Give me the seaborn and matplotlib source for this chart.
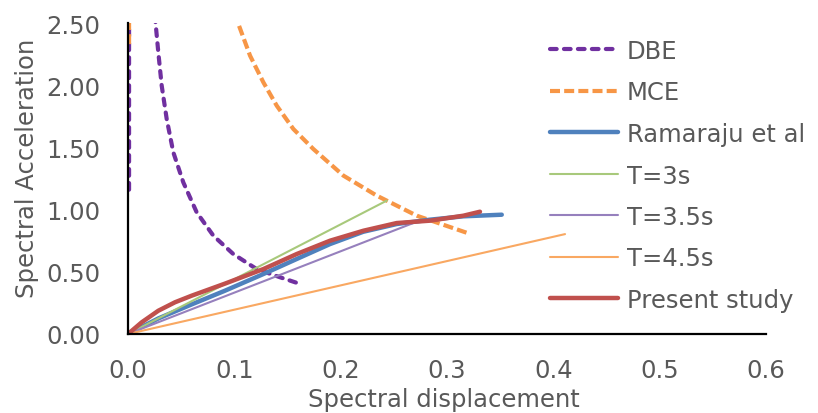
import matplotlib
matplotlib.use("Agg")
import matplotlib.pyplot as plt
import seaborn as sns

# (Sd, Sa)
dbe_sd = [0.001, 0.001, 0.0248, 0.0263, 0.0285, 0.0317, 0.0364, 0.0426, 0.052, 0.0646,
          0.0803, 0.099, 0.121, 0.143, 0.162]
dbe_sa = [1.16, 2.60, 2.60, 2.466, 2.264, 1.996, 1.728, 1.461, 1.219, 0.978,
          0.790, 0.643, 0.522, 0.456, 0.402]

mce_sd = [0.001, 0.001, 0.092, 0.1038, 0.1148, 0.1273, 0.1399, 0.1555, 0.1743, 0.2026,
          0.234, 0.2716, 0.3202]
mce_sa = [2.33, 2.80, 2.80, 2.492, 2.237, 2.023, 1.835, 1.648, 1.487, 1.273,
          1.112, 0.951, 0.809]

ramaraju_sd = [0.0, 0.0285, 0.0599, 0.0912, 0.1273, 0.1587, 0.190, 0.2213, 0.2527,
               0.284, 0.3154, 0.3515]
ramaraju_sa = [0.0, 0.125, 0.238, 0.348, 0.482, 0.603, 0.723, 0.822, 0.884,
               0.919, 0.946, 0.959]

t3_sd = [0.0, 0.2433]
t3_sa = [0.0, 1.072]
t35_sd = [0.0, 0.2716]
t35_sa = [0.0, 0.903]
t45_sd = [0.0, 0.411]
t45_sa = [0.0, 0.803]

present_sd = [0.0, 0.0129, 0.0285, 0.0442, 0.0599, 0.0912, 0.1273, 0.1587, 0.190,
              0.2213, 0.2527, 0.284, 0.3154, 0.331]
present_sa = [0.0, 0.094, 0.187, 0.255, 0.308, 0.405, 0.522, 0.643, 0.750,
              0.830, 0.892, 0.911, 0.951, 0.983]

sns.set_style("white")
plt.rcParams["font.family"] = ["DejaVu Sans"]
grey = "#595959"

fig = plt.figure(figsize=(8.18, 4.14), dpi=100)
ax = fig.add_axes([128 / 818, 79 / 414, 638 / 818, 311 / 414])

series = [
    ("DBE", dbe_sd, dbe_sa, "#7030A0", 3.0, (1.6, 1.75), "round"),
    ("MCE", mce_sd, mce_sa, "#F79646", 3.0, (2.4, 1.0), "butt"),
    ("Ramaraju et al", ramaraju_sd, ramaraju_sa, "#4F81BD", 3.2, None, None),
    ("T=3s", t3_sd, t3_sa, "#A8C97B", 1.5, None, None),
    ("T=3.5s", t35_sd, t35_sa, "#9680BD", 1.5, None, None),
    ("T=4.5s", t45_sd, t45_sa, "#F9A862", 1.5, None, None),
    ("Present study", present_sd, present_sa, "#C0504D", 3.2, None, None),
]

for name, sd, sa, col, lw, dash, cap in series:
    sns.lineplot(x=sd, y=sa, sort=False, estimator=None, color=col, lw=lw,
                 label=name, ax=ax)
    line = ax.lines[-1]
    line.set_solid_capstyle("round")
    line.set_solid_joinstyle("round")
    if dash is not None:
        line.set_dashes(dash)
        line.set_dash_capstyle(cap)

ax.set_xlim(0, 0.6)
ax.set_ylim(0, 2.5)
ax.set_xticks([0.0, 0.1, 0.2, 0.3, 0.4, 0.5, 0.6])
ax.set_yticks([0.0, 0.5, 1.0, 1.5, 2.0, 2.5])
ax.set_xticklabels(["%.1f" % v for v in ax.get_xticks()])
ax.set_yticklabels(["%.2f" % v for v in ax.get_yticks()])
ax.tick_params(axis="both", length=0, labelsize=17.5, labelcolor=grey)
ax.tick_params(axis="y", pad=20)
ax.tick_params(axis="x", pad=17.5)

for s in ["top", "right"]:
    ax.spines[s].set_visible(False)
for s in ["left", "bottom"]:
    ax.spines[s].set_color("black")
    ax.spines[s].set_linewidth(1.6)

ax.set_xlabel("Spectral displacement", fontsize=17.5, color=grey)
ax.set_ylabel("Spectral Acceleration", fontsize=17.5, color=grey)
ax.xaxis.set_label_coords(0.495, -0.172)
ax.yaxis.set_label_coords(-0.14, 0.537)

leg = ax.legend(loc="upper left", bbox_to_anchor=(550 / 818, 1 - 40 / 414),
                bbox_transform=fig.transFigure, frameon=False, fontsize=17.5,
                handlelength=2.8, handletextpad=0.35, labelspacing=0.72,
                borderpad=0, borderaxespad=0)
for t in leg.get_texts():
    t.set_color(grey)

fig.savefig("out.png", dpi=100)
